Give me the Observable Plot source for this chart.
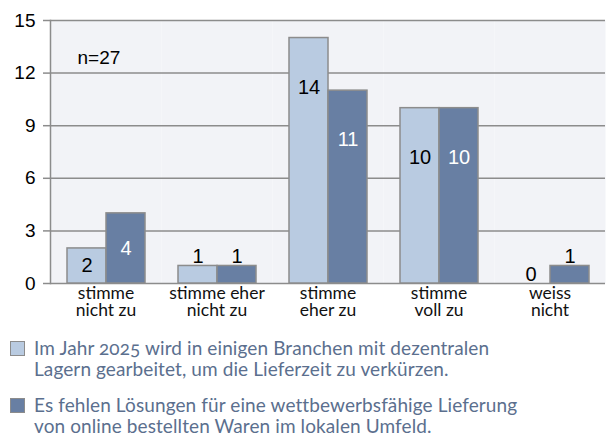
<!DOCTYPE html>
<html><head><meta charset="utf-8">
<script src="https://cdn.jsdelivr.net/npm/d3@7"></script>
<script src="https://cdn.jsdelivr.net/npm/@observablehq/plot@0.6"></script>
<style>
html,body{margin:0;padding:0;background:#fff;}
#wrap{position:relative;width:611px;height:437px;overflow:hidden;}
#chart svg{display:block;}
.sw{position:absolute;left:10px;width:13px;height:13px;border:1.5px solid #8c8c8c;}
.lt{position:absolute;left:34px;white-space:nowrap;font-family:Lato,"Open Sans",sans-serif;font-size:19px;line-height:21px;color:#5b6f8e;font-variant-numeric:oldstyle-nums;letter-spacing:0.1px;}
</style></head><body>
<div id="wrap"><div id="chart"></div><div id="legend"></div></div>
<script>
const categories = ["stimme nicht zu","stimme eher nicht zu","stimme eher zu","stimme voll zu","weiss nicht"];
const tickLabels = ["stimme\nnicht zu","stimme eher\nnicht zu","stimme\neher zu","stimme\nvoll zu","weiss\nnicht"];
const seriesNames = [
  "Im Jahr 2025 wird in einigen Branchen mit dezentralen Lagern gearbeitet, um die Lieferzeit zu verkürzen.",
  "Es fehlen Lösungen für eine wettbewerbsfähige Lieferung von online bestellten Waren im lokalen Umfeld."
];
const legendLines = [
  ["Im Jahr 2025 wird in einigen Branchen mit dezentralen", "Lagern gearbeitet, um die Lieferzeit zu verkürzen."],
  ["Es fehlen Lösungen für eine wettbewerbsfähige Lieferung", "von online bestellten Waren im lokalen Umfeld."]
];
const series1 = [2, 1, 14, 10, 0];
const series2 = [4, 1, 11, 10, 1];
const yTicks = [0, 3, 6, 9, 12, 15];
const sampleLabel = "n=27";
const colors = ["#b9cbe1", "#687fa3"];

const rows = [];
categories.forEach((c, i) => {
  rows.push({category: c, series: seriesNames[0], s: 0, value: series1[i]});
  rows.push({category: c, series: seriesNames[1], s: 1, value: series2[i]});
});
const inside = rows.filter(d => d.value >= 2);
const above = rows.filter(d => d.value < 2);

const chart = Plot.plot({
  width: 611, height: 325,
  marginLeft: 49, marginRight: 6, marginTop: 20, marginBottom: 42,
  style: {fontFamily: "Liberation Sans, Arial, sans-serif", fontSize: "19px", background: "white", color: "black"},
  fx: {domain: categories, padding: 0, axis: null},
  x: {domain: seriesNames, paddingInner: 0, paddingOuter: 0.4, axis: null},
  y: {domain: [0, 15], axis: null},
  color: {domain: seriesNames, range: colors},
  marks: [
    Plot.frame({fill: "#f2f3f7", stroke: null}),
    Plot.ruleY(yTicks, {stroke: "#8c8c8c", strokeWidth: 1.5}),
    Plot.frame({anchor: "left", facetAnchor: "left", stroke: "#8c8c8c", strokeWidth: 1.5}),
    Plot.axisY({ticks: yTicks, tickSize: 7, tickPadding: 8, stroke: "#8c8c8c", strokeWidth: 1.5, fill: "black", fontSize: 19, label: null}),
    Plot.barY(rows, {fx: "category", x: "series", y: "value", fill: "series", stroke: "#8c8c8c", strokeWidth: 1.5}),
    Plot.text(inside, {fx: "category", x: "series", y: d => d.value > 6 ? d.value - 2.8 : d.value / 2,
      text: d => String(d.value), fill: d => d.s === 0 ? "black" : "white", fontSize: 20}),
    Plot.text(above, {fx: "category", x: "series", y: "value", text: d => String(d.value),
      lineAnchor: "bottom", dy: -3, fill: "black", fontSize: 20}),
    Plot.text([categories[0]], {fx: d => d, text: () => sampleLabel, frameAnchor: "top-left", dx: 27, dy: 30, fontSize: 19, fill: "black"}),
    Plot.text(categories, {fx: d => d, text: (d, i) => tickLabels[i], frameAnchor: "bottom", lineAnchor: "top",
      dy: 3, lineHeight: 1, fontFamily: "Lato, 'Open Sans', sans-serif", fontSize: 17.5, fill: "#111"})
  ]
});
document.getElementById("chart").appendChild(chart);

const legend = document.getElementById("legend");
const tops = [341, 398];
legendLines.forEach((lines, i) => {
  const sw = document.createElement("div");
  sw.className = "sw";
  sw.style.top = tops[i] + "px";
  sw.style.background = colors[i];
  legend.appendChild(sw);
  const t = document.createElement("div");
  t.className = "lt";
  t.style.top = (tops[i] - 4) + "px";
  t.innerHTML = lines.join("<br>");
  legend.appendChild(t);
});
</script>
</body></html>
